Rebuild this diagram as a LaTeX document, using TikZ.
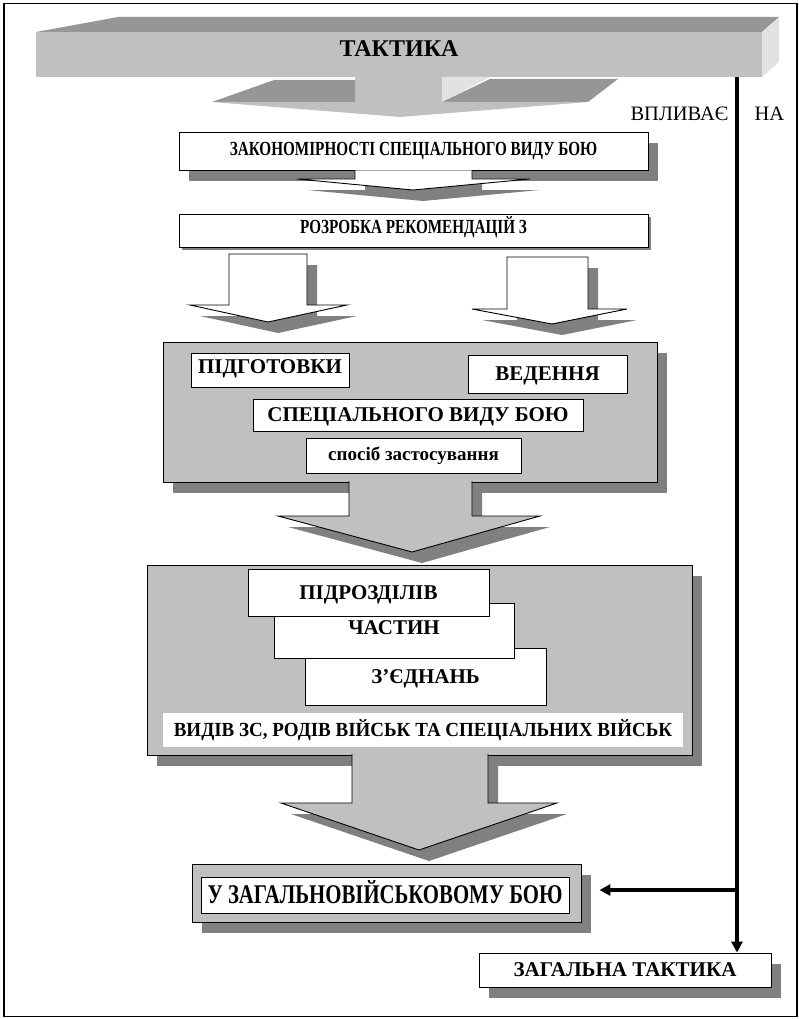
\documentclass[tikz,border=0pt]{standalone}
\usepackage{graphicx}
\usepackage{fontspec}
\setmainfont{Liberation Serif}
\usetikzlibrary{arrows.meta,shadows}

\definecolor{topgray}{RGB}{150,150,150}
\definecolor{facegray}{RGB}{192,192,192}
\definecolor{sidegray}{RGB}{226,226,226}
\definecolor{shadowgray}{RGB}{128,128,128}

\tikzset{
    box/.style={draw, fill=white, line width=0.9pt, inner sep=0pt},
    greybox/.style={draw, fill=facegray, line width=0.9pt, inner sep=0pt},
    shade/.style={drop shadow={shadow xshift=10pt, shadow yshift=-11pt, fill=shadowgray, opacity=1}},
    thinshade/.style={drop shadow={shadow xshift=3pt, shadow yshift=-3pt, fill=shadowgray, opacity=1}},
    labeltext/.style={font=\fontsize{21}{25}\selectfont\bfseries, text height=13.9pt, text depth=0pt},
    narrowtext/.style={font=\fontsize{20}{24}\selectfont\bfseries, text height=13.2pt, text depth=0pt},
    flow/.style={line width=3.2pt, -{Triangle[length=11pt,width=11pt]}}
}

\begin{document}
\begin{tikzpicture}[x=1pt,y=-1pt]
    \useasboundingbox (0,0) rectangle (799,1019);
    % outer frame
    \draw[line width=1.4pt] (4,3.5) rectangle (797,1016.5);

    % the bar with its arrow, drawn as a block seen from above
    \fill[topgray] (36,32) -- (118,17) -- (779,17) -- (762,32) -- cycle;
    \fill[sidegray] (762,32) -- (779,17) -- (779,62) -- (762,77) -- cycle;
    \node[fill=facegray, inner sep=0pt, minimum width=726pt, minimum height=45pt] (tactic) at (399,54.5) {};
    \node[font=\fontsize{24}{28}\selectfont\bfseries, text height=15.9pt, text depth=0pt] (tactictext) at (399,48.5) {ТАКТИКА};
    \fill[facegray] (355,76) rectangle (442,102);
    \fill[topgray] (212,102) -- (274,80) -- (355,80) -- (355,102) -- cycle;
    \fill[sidegray] (442,77) -- (490,77) -- (442,102) -- cycle;
    \fill[topgray] (442,102) -- (490,79) -- (618,79) -- (588,102) -- cycle;
    \fill[facegray] (212,102) -- (588,102) -- (400,117) -- cycle;

    % side text
    \node[anchor=base east, font=\fontsize{20.5}{24}\selectfont] (influence) at (732,121) {ВПЛИВАЄ};
    \node[anchor=base west, font=\fontsize{20.5}{24}\selectfont] (on) at (751,121) {НА};

    % laws
    \node[box, shade, narrowtext, text depth=4pt, minimum width=469pt, minimum height=38pt] (laws) at (413.5,151)
        {\scalebox{0.76}[1]{ЗАКОНОМІРНОСТІ СПЕЦІАЛЬНОГО ВИДУ БОЮ}};
    \fill[shadowgray] (365,181) -- (365,190) -- (307,190) -- (423,201) -- (540,190) -- (482,190) -- (482,181) -- cycle;
    \filldraw[fill=white, line width=0.9pt] (355,170.5) -- (355,179) -- (297,179) -- (413,190) -- (530,179) -- (472,179) -- (472,170.5);

    % recommendations
    \node[box, thinshade, narrowtext, text depth=8pt, minimum width=469pt, minimum height=33pt] (advice) at (413.5,230.5)
        {\scalebox{0.76}[1]{РОЗРОБКА РЕКОМЕНДАЦІЙ З}};
    % two open arrows
    \fill[shadowgray] (239,265) -- (239,316) -- (200,316) -- (278,333) -- (357,316) -- (317,316) -- (317,265) -- cycle;
    \fill[shadowgray] (517,268) -- (517,320) -- (482,320) -- (562,335) -- (637,320) -- (598,320) -- (598,268) -- cycle;
    \filldraw[fill=white, line width=0.9pt] (229,254) -- (229,305) -- (190,305) -- (268,322) -- (347,305) -- (307,305) -- (307,254) -- cycle;
    \filldraw[fill=white, line width=0.9pt] (507,257) -- (507,309) -- (472,309) -- (552,324) -- (627,309) -- (588,309) -- (588,257) -- cycle;

    % special kind of combat
    \node[greybox, shade, minimum width=494pt, minimum height=140pt] (special) at (410,412) {};
    \node[box, labeltext, text depth=6pt, minimum width=158pt, minimum height=34pt] (prepare) at (270,370) {ПІДГОТОВКИ};
    \node[box, labeltext, minimum width=159pt, minimum height=38pt] (conduct) at (547.5,374) {ВЕДЕННЯ};
    \node[box, labeltext, minimum width=330pt, minimum height=32pt] (kind) at (418,415) {СПЕЦІАЛЬНОГО ВИДУ БОЮ};
    \node[box, font=\fontsize{19}{22}\selectfont\bfseries, minimum width=215pt, minimum height=35pt] (usage) at (413.5,455.5) {спосіб застосування};
    \fill[shadowgray] (359,493) -- (359,527) -- (288,527) -- (422,563) -- (550,527) -- (482,527) -- (482,493) -- cycle;
    \filldraw[fill=facegray, line width=0.9pt] (349,481) -- (349,516) -- (278,516) -- (412,552) -- (540,516) -- (472,516) -- (472,481);

    % troops
    \node[greybox, shade, minimum width=545pt, minimum height=190pt] (troops) at (419.5,660) {};
    \node[box, labeltext, minimum width=241pt, minimum height=57pt] (formations) at (425.5,676.5) {З’ЄДНАНЬ};
    \node[box, labeltext, text depth=5pt, minimum width=240pt, minimum height=55pt] (units) at (394,630.5) {ЧАСТИН};
    \node[box, labeltext, minimum width=241pt, minimum height=47pt] (subunits) at (368.5,592.5) {ПІДРОЗДІЛІВ};
    \node[fill=white, inner sep=0pt, narrowtext, minimum width=520pt, minimum height=34pt] (branches) at (423,730)
        {\scalebox{0.95}[1]{ВИДІВ ЗС, РОДІВ ВІЙСЬК ТА СПЕЦІАЛЬНИХ ВІЙСЬК}};
    \fill[shadowgray] (362,765) -- (362,814) -- (291,814) -- (429,861) -- (567,814) -- (498,814) -- (498,765) -- cycle;
    \filldraw[fill=facegray, line width=0.9pt] (352,754) -- (352,803) -- (281,803) -- (419,850) -- (557,803) -- (488,803) -- (488,754);

    % combined arms combat
    \node[greybox, shade, minimum width=389pt, minimum height=58pt] (combatframe) at (386.5,893) {};
    \node[box, font=\fontsize{27}{30}\selectfont\bfseries, text height=17.8pt, text depth=0pt, minimum width=368pt, minimum height=36pt] (combat) at (385,895)
        {\scalebox{0.77}[1]{У ЗАГАЛЬНОВІЙСЬКОВОМУ БОЮ}};

    % general tactics
    \node[box, shade, labeltext, minimum width=292pt, minimum height=34pt] (general) at (625,970) {ЗАГАЛЬНА ТАКТИКА};

    % influence line
    \coordinate (linetop) at (737,77);
    \coordinate (branch) at (737,890);
    \draw[flow] (linetop) -- (linetop |- general.north);
    \draw[flow, shorten >=18pt] (branch) -- (branch -| combatframe.east);
\end{tikzpicture}
\end{document}
